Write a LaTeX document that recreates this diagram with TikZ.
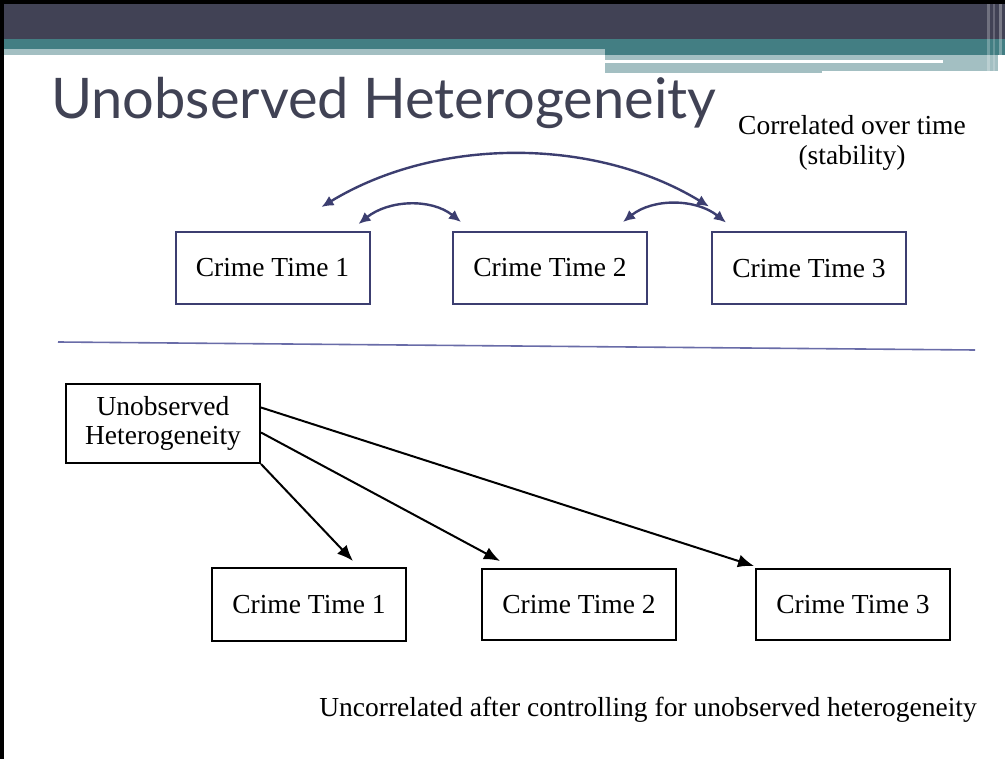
\documentclass[tikz,border=0pt]{standalone}
\usepackage{fontspec}
\setmainfont{Liberation Serif}
\newfontfamily\titlefont{Lato}
\usetikzlibrary{arrows.meta,calc}
\definecolor{hdark}{RGB}{65,66,85}
\definecolor{hteal}{RGB}{67,126,131}
\definecolor{hlight}{RGB}{163,191,194}
\definecolor{navy}{RGB}{60,62,112}
\definecolor{titlec}{RGB}{64,66,84}
\definecolor{sepc}{RGB}{105,108,168}
\tikzset{
  txt/.style={font=\fontsize{27.5}{30}\selectfont, inner sep=0pt},
  topbox/.style={txt, draw=navy, line width=2pt, minimum width=194pt, minimum height=72pt},
  botbox/.style={txt, draw=black, line width=2pt, minimum width=194pt, minimum height=72pt},
  biarr/.style={navy, line width=2.4pt, {Latex[length=12pt,width=11pt]}-{Latex[length=12pt,width=11pt]}},
  onearr/.style={black, line width=2pt, -{Latex[length=16pt,width=13pt]}},
}
\begin{document}
\begin{tikzpicture}[x=1pt,y=-1pt]
\useasboundingbox (0,0) rectangle (1005,759);
\fill[white] (0,0) rectangle (1005,759);
% header
\fill[hdark] (0,0) rectangle (1005,39);
\fill[hteal] (0,39) rectangle (605,49);
\fill[hlight] (0,49) rectangle (605,55);
\fill[hteal] (605,39) rectangle (1005,55);
\fill[hlight] (605,55) rectangle (998,71);
\fill[hlight] (605,71) rectangle (822,73);
\fill[white] (605,60) rectangle (943,63);
\fill[white, opacity=0.25] (987,4) rectangle (990,72);
\fill[white, opacity=0.2] (993,4) rectangle (995,72);
\fill[white, opacity=0.3] (999,4) rectangle (1002,72);
% black frame
\fill[black] (0,0) rectangle (1005,4);
\fill[black] (0,0) rectangle (4,759);
% title
\node[anchor=base west, inner sep=0pt, text=titlec, font=\titlefont\fontsize{56}{60}\selectfont] (title) at (51,119) {Unobserved Heterogeneity};
% top section
\node[topbox] (t1) at (272.5,268) {Crime Time 1};
\node[topbox] (t2) at (550,268) {Crime Time 2};
\node[topbox] (t3) at (809,268.5) {Crime Time 3};
\node[txt, align=center, anchor=base] (corr) at (852,165) {Correlated over time\\(stability)};
\coordinate (a1) at ($(t1.north east)+(-49,-24)$);
\coordinate (a2) at ($(t3.north west)+(-2,-25)$);
\coordinate (b1s) at ($(t1.north east)+(-12,-7)$);
\coordinate (b1e) at ($(t2.north west)+(9,-9)$);
\coordinate (b2s) at ($(t2.north east)+(-25,-9)$);
\coordinate (b2e) at ($(t3.north west)+(15,-9)$);
\draw[biarr] (a1) .. controls ($(a1)+(115,-70)$) and ($(a2)+(-115,-70)$) .. (a2);
\draw[biarr] (b1s) .. controls ($(b1s)+(30,-24)$) and ($(b1e)+(-30,-24)$) .. (b1e);
\draw[biarr] (b2s) .. controls ($(b2s)+(30,-24)$) and ($(b2e)+(-30,-24)$) .. (b2e);
% separator
\coordinate (s1) at (58,342);
\coordinate (s2) at (975,350);
\draw[sepc, line width=1.6pt] (s1) -- (s2);
% bottom section
\node[botbox, minimum height=79pt, align=center, font=\fontsize{27.5}{29}\selectfont] (uh) at (163,423.5) {Unobserved\\Heterogeneity};
\node[botbox, minimum height=73pt] (c1) at (309,604.5) {Crime Time 1};
\node[botbox, minimum height=71pt] (c2) at (579,604.5) {Crime Time 2};
\node[botbox, minimum height=71pt] (c3) at (853,604.5) {Crime Time 3};
\coordinate (e1) at ($(c1.north)+(44,-6)$);
\coordinate (e2) at ($(c2.north)+(-79,-7)$);
\coordinate (e3) at ($(c3.north west)+(-1,-2)$);
\draw[onearr] (uh.south east) -- (e1);
\draw[onearr] ($(uh.east)+(0,9)$) -- (e2);
\draw[onearr] ($(uh.east)+(0,-16)$) -- (e3);
\node[txt, anchor=base east] (unc) at (977,716) {Uncorrelated after controlling for unobserved heterogeneity};
\end{tikzpicture}
\end{document}
